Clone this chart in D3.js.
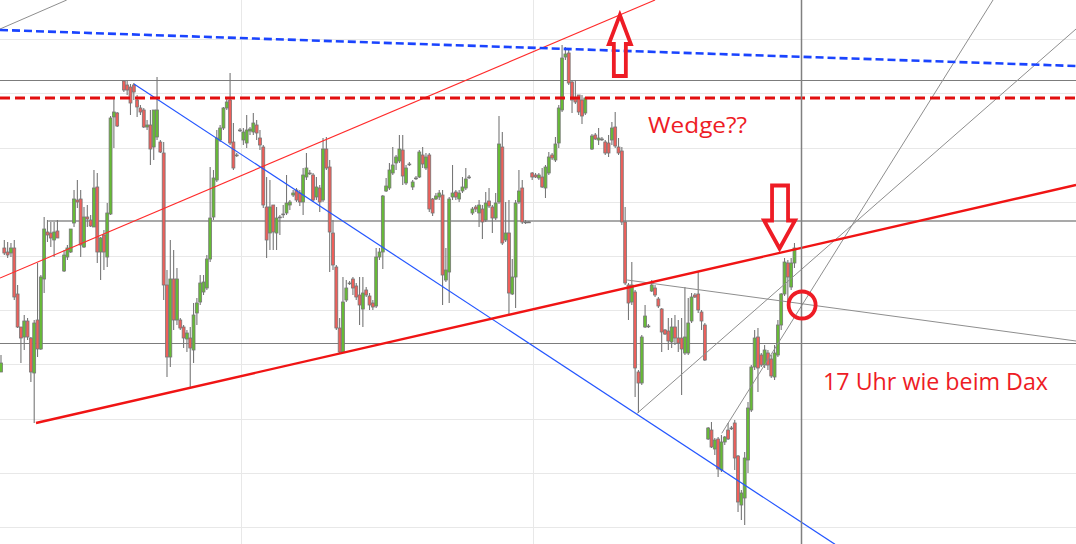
<!DOCTYPE html>
<html><head><meta charset="utf-8">
<script src="https://cdn.jsdelivr.net/npm/d3@7"></script>
<style>html,body{margin:0;padding:0;background:#fff;overflow:hidden}</style>
</head><body><svg id="c" width="1076" height="544"></svg>
<script>
// ---- DATA (bar index, price units) ----
// each bar: [open, high, low, close]; null = no bar at that slot
const bars = [
[228,245,228,237],[352,360,345,347],[348,358,342,345],[347,357,343,352],[352,360,300,303],
[306,315,272,273],[273,273,237,262],[263,285,250,279],[279,282,260,263],[262,263,218,228],
[227,280,177,277],[280,337,243,251],[251,325,250,323],[321,383,307,371],[368,380,358,365],
[367,378,353,362],[360,378,343,368],[369,380,362,362],null,[329,350,328,345],
[343,355,340,352],[348,371,347,371],[377,410,373,401],[400,420,392,398],[401,410,343,355],
[353,393,352,383],[383,395,373,381],[380,385,373,374],[373,430,373,412],[413,427,337,348],
[348,363,320,362],[365,370,330,348],[343,397,333,387],[386,484,385,482],[483,501,452,488],
[487,488,473,474],null,[519,520,508,510],[515,520,505,510],[513,516,485,497],
[515,517,500,508],[500,505,483,493],[492,495,485,488],[490,492,472,473],[473,480,470,475],
[475,490,435,451],[453,490,440,490],[463,523,460,490],[458,460,447,448],[447,458,300,315],
[315,330,223,243],[243,360,233,321],[321,350,270,280],[280,332,275,321],[280,282,270,272],
[273,275,252,262],[261,270,248,267],[262,273,212,252],[250,297,237,285],[287,302,275,297],
[298,325,295,317],[308,325,305,318],[312,345,310,341],[341,433,338,382],[383,430,380,422],
[420,470,418,462],[460,475,458,472],[472,493,470,492],[492,502,490,498],[500,527,455,457],
[458,477,430,432],[445,447,443,445],[470,472,468,470],[460,472,455,468],[457,485,452,470],
[469,473,465,471],[468,487,465,477],[475,480,460,467],[462,470,450,455],[453,455,392,395],
[393,423,342,360],[367,420,350,393],[395,395,350,368],[367,393,350,382],[383,385,365,383],
[386,395,382,386],[387,425,385,397],[395,400,390,398],[405,410,403,407],[410,412,398,400],
[407,410,394,398],[398,432,385,425],[423,447,420,432],[427,430,425,427],[425,427,398,400],
[403,423,400,413],[412,415,388,398],[400,462,398,451],[451,463,430,432],[433,440,328,368],
[367,380,330,335],[333,335,270,272],[272,282,247,248],[248,323,247,298],[300,320,298,312],
[317,319,315,317],[321,323,305,312],[314,317,300,303],[305,323,275,295],[291,323,273,307],
[310,313,303,305],[304,307,290,295],[297,300,290,293],[294,352,292,343],[343,352,340,348],
[348,405,331,404],[409,422,408,414],[412,437,410,430],[427,453,425,435],[437,445,430,443],
[439,465,437,451],[450,465,415,424],[417,435,415,432],[436,438,434,436],[413,420,410,418],
[422,424,420,422],[423,450,422,448],[445,453,432,436],[432,447,430,443],[445,447,388,391],
[401,402,384,387],[401,407,400,404],[403,410,400,407],[405,410,295,325],[320,352,318,330],
[328,403,297,401],[403,435,400,407],[408,410,400,403],[401,410,398,407],[409,423,407,413],
[412,432,410,421],[423,425,421,423],[387,393,385,391],[393,395,388,391],[387,400,373,395],
[391,395,361,378],[380,408,378,397],[399,412,392,394],[393,395,367,382],[382,407,380,397],
[398,484,396,456],[453,468,355,357],[360,398,358,367],[367,400,285,307],[306,341,305,323],
[323,400,292,397],[398,430,396,409],[412,420,376,378],[378,380,376,378],[378,379,377,378],
[427,428,420,423],[425,427,422,423],[422,427,420,425],[423,432,412,413],[412,435,402,433],
[427,448,425,443],[445,447,440,442],[440,463,438,456],[457,495,452,492],[490,555,488,542],
[543,553,540,546],[547,550,515,517],[518,520,487,500],[502,520,496,498],[505,505,485,488],
[500,505,476,484],[487,503,485,502],null,[451,466,450,464],[465,467,460,461],
[460,472,455,462],[461,463,459,461],[458,460,445,447],[457,465,443,447],[460,478,455,472],
[473,488,452,454],[453,462,445,447],[449,453,375,378],[378,393,315,317],[315,317,280,297],
[298,338,295,315],[308,310,203,232],[228,230,187,217],[217,265,215,263],[273,295,272,284],
[274,276,272,274],[309,320,308,315],[312,315,303,305],[301,303,292,294],[291,292,248,268],
[270,271,265,266],[269,282,250,259],[258,282,252,273],[273,285,255,262],[262,280,248,257],
[262,282,205,251],[247,313,245,263],[247,302,245,277],[279,307,277,303],[305,307,302,303],
[306,328,287,290],[288,290,270,279],[275,277,239,240],[161,173,160,172],[170,178,152,153],
[151,162,145,160],[161,163,123,131],[130,165,128,158],[158,164,155,163],[170,177,160,161],
[172,174,170,172],[177,180,130,142],[144,145,88,98],[95,110,80,107],[102,148,75,142],
[140,198,127,192],[190,235,188,233],[233,270,230,262],[263,272,208,232],[245,247,233,235],
[235,255,232,250],[247,250,230,235],[241,245,222,224],[223,255,220,247],[245,280,243,275],
[275,307,270,306],[306,342,304,338],[337,340,295,323],[313,342,310,337],[337,357,332,352]
];

const gridPrices = [73, 127.2, 181.4, 235.6, 289.8, 344, 398.2, 452.4, 506.6, 560.8];
const sessionBreaks = [72.2, 160.2];
const levels = [520, 257];          // full-width horizontal levels
const midLevel = {from: 14.2, price: 379};
const resistance = 502;             // dashed red level
const cursorIndex = 240.96;

// trend lines: [[index, price], [index, price]]
const blueDashed   = [[-0.3, 570], [323.8, 534]];
const redThin      = [[-0.3, 322], [197.0, 600]];
const blueThin     = [[40.06, 516], [251.2, 55.7]];
const redSupport   = [[10.54, 177], [323.8, 415]];
const grayTopLeft  = [[-0.3, 571], [19.8, 600]];
const grayRising   = [[191.6, 186.7], [323.8, 571]];
const graySteep    = [[217.1, 166.7], [298.8, 600]];
const grayFalling  = [[188.6, 320], [323.8, 259]];

const upArrowTip   = [186.4, 585];
const downArrowTip = [234.5, 351.5];
const circleAt     = [241.3, 295];

const notes = [
  {text: "Wedge??", at: [194.9, 467], len: 99, size: 22},
  {text: "17 Uhr wie beim Dax", at: [247.6, 210], len: 225, size: 24}
];

// ---- DRAW ----
const W = 1076, H = 544;
const x = d3.scaleLinear().domain([0, 324]).range([1, 1076.68]);
const y = d3.scaleLinear().domain([600, 56]).range([0, 544]);
const svg = d3.select('#c');
svg.append('rect').attr('width', W).attr('height', H).attr('fill', '#fff');

const grid = svg.append('g');
grid.selectAll('line.h').data(gridPrices).join('line')
  .attr('x1', 0).attr('x2', W)
  .attr('y1', d => Math.round(y(d)) + 0.5).attr('y2', d => Math.round(y(d)) + 0.5)
  .attr('stroke', '#e8e8e8').attr('stroke-width', 1);
grid.selectAll('line.v').data(sessionBreaks).join('line')
  .attr('y1', 0).attr('y2', H)
  .attr('x1', d => Math.round(x(d)) + 0.5).attr('x2', d => Math.round(x(d)) + 0.5)
  .attr('stroke', '#e8e8e8').attr('stroke-width', 1);

const lv = svg.append('g');
lv.selectAll('line').data(levels).join('line')
  .attr('x1', 0).attr('x2', W)
  .attr('y1', d => Math.round(y(d)) + 0.5).attr('y2', d => Math.round(y(d)) + 0.5)
  .attr('stroke', '#7c7c7c').attr('stroke-width', 1.2);
lv.append('line')
  .attr('x1', x(midLevel.from)).attr('x2', W)
  .attr('y1', y(midLevel.price)).attr('y2', y(midLevel.price))
  .attr('stroke', '#a9a9a9').attr('stroke-width', 2);

// candles
const data = bars.map((b, i) => b ? {i, o: b[0], h: b[1], l: b[2], c: b[3]} : null).filter(Boolean);
const cg = svg.append('g');
cg.selectAll('line.w').data(data).join('line')
  .attr('x1', d => x(d.i)).attr('x2', d => x(d.i))
  .attr('y1', d => y(d.h)).attr('y2', d => y(d.l))
  .attr('stroke', '#777').attr('stroke-width', 1.1);
cg.selectAll('rect').data(data).join('rect')
  .attr('x', d => x(d.i) - 1.45).attr('width', 2.9)
  .attr('y', d => y(Math.max(d.o, d.c)))
  .attr('height', d => Math.max(0.8, Math.abs(y(d.o) - y(d.c))))
  .attr('fill', d => d.c > d.o ? '#66bb35' : (d.c < d.o ? '#ee5f5a' : '#777'))
  .attr('stroke', '#777').attr('stroke-width', 0.8);

// trend lines
function seg(p, color, width, dash) {
  const l = svg.append('line')
    .attr('x1', x(p[0][0])).attr('y1', y(p[0][1]))
    .attr('x2', x(p[1][0])).attr('y2', y(p[1][1]))
    .attr('stroke', color).attr('stroke-width', width);
  if (dash) l.attr('stroke-dasharray', dash);
  return l;
}
seg(grayTopLeft, '#8e8e8e', 1);
seg(grayRising, '#8e8e8e', 1);
seg(graySteep, '#8e8e8e', 1);
seg(grayFalling, '#8e8e8e', 1);
seg(redThin, '#ff2b2b', 1.1);
seg(blueThin, '#2456ff', 1.2);
seg(redSupport, '#f01414', 2.4);
seg(blueDashed, '#1a44ff', 2.6, '8,4');
svg.append('line').attr('x1', 0).attr('x2', W)
  .attr('y1', y(resistance)).attr('y2', y(resistance))
  .attr('stroke', '#e20e0e').attr('stroke-width', 3.2).attr('stroke-dasharray', '10,5');
svg.append('line')
  .attr('x1', Math.round(x(cursorIndex)) + 0.5).attr('x2', Math.round(x(cursorIndex)) + 0.5)
  .attr('y1', 0).attr('y2', H).attr('stroke', '#808080').attr('stroke-width', 1.5);

// annotations
const annoRed = '#ee1c25';
const upShape = [[0,0],[11,29],[6,29],[6,61],[-6,61],[-6,29],[-11,29]];
const downShape = [[0,0],[15.5,-28],[8.5,-28],[8.5,-63],[-7.5,-63],[-7.5,-28],[-15.5,-28]];
function arrow(tip, shape) {
  const tx = x(tip[0]), ty = y(tip[1]);
  svg.append('path')
    .attr('d', 'M' + shape.map(p => (tx + p[0]) + ',' + (ty + p[1])).join('L') + 'Z')
    .attr('fill', 'none').attr('stroke', annoRed).attr('stroke-width', 3.8)
    .attr('stroke-linejoin', 'miter').attr('stroke-miterlimit', 10);
}
arrow(upArrowTip, upShape);
arrow(downArrowTip, downShape);
svg.append('circle').attr('cx', x(circleAt[0])).attr('cy', y(circleAt[1])).attr('r', 13.5)
  .attr('fill', 'none').attr('stroke', annoRed).attr('stroke-width', 3.8);

svg.selectAll('text.note').data(notes).join('text')
  .attr('x', d => x(d.at[0])).attr('y', d => y(d.at[1]))
  .attr('font-family', '"Open Sans", "Noto Sans", sans-serif')
  .attr('font-size', d => d.size)
  .attr('textLength', d => d.len).attr('lengthAdjust', 'spacingAndGlyphs')
  .attr('fill', annoRed)
  .text(d => d.text);
</script>
</body></html>
